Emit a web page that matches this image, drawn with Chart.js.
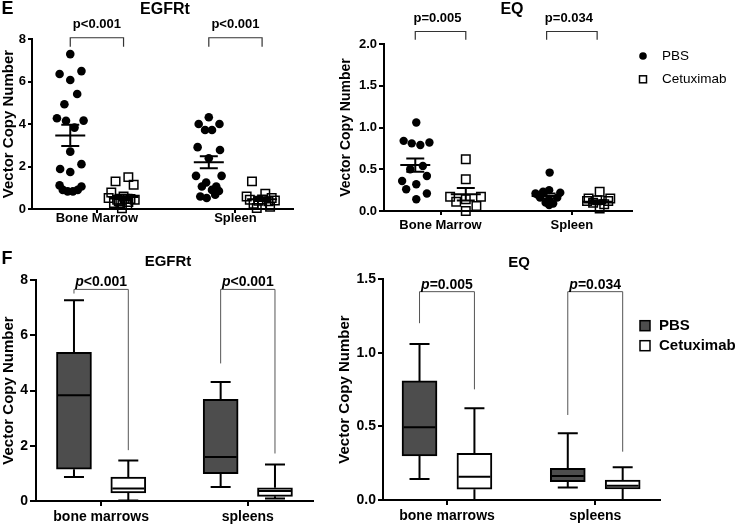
<!DOCTYPE html>
<html>
<head>
<meta charset="utf-8">
<script src="https://cdn.jsdelivr.net/npm/chart.js@4.4.0/dist/chart.umd.min.js"></script>
<style>
  html, body { margin: 0; padding: 0; background: #fff; }
  #wrap { position: relative; width: 744px; height: 528px; overflow: hidden; }
  canvas { position: absolute; }
</style>
</head>
<body>
<div id="wrap">
  <canvas id="eL" style="left:0;top:0" width="330" height="250"></canvas>
  <canvas id="eR" style="left:335px;top:0" width="409" height="250"></canvas>
  <canvas id="fL" style="left:0;top:250px" width="330" height="278"></canvas>
  <canvas id="fR" style="left:335px;top:250px" width="409" height="278"></canvas>
</div>
<script>
/* ---------- data ---------- */
const GROUPS_E = ["Bone Marrow", "Spleen"];
const GROUPS_F = ["bone marrows", "spleens"];
const SERIES = ["PBS", "Cetuximab"];

// x position of each column: BM-PBS, BM-Cetuximab, Spleen-PBS, Spleen-Cetuximab
const POS_E = [1, 2, 3.6, 4.6];
const POS_F = [1, 2, 3.7, 4.7];

// panel E, EGFRt (y value + horizontal scatter offset)
const EGFR_BM_PBS    = [7.29, 6.35, 6.49, 6.07, 5.41, 4.93, 4.27, 4.15, 4.16, 3.83, 2.70, 2.11, 1.88, 1.74, 1.11, 1.06, 0.90, 0.83, 0.83, 0.90];
const EGFR_BM_PBS_DX = [0, -0.20, 0.21, 0, 0.13, -0.11, -0.25, -0.08, 0.25, 0.08, 0, 0.21, -0.19, 0, -0.20, 0.21, -0.14, -0.05, 0.05, 0.14];
const EGFR_BM_CET    = [1.30, 1.50, 1.14, 0.78, 0.59, 0.52, 0.44, 0.47, 0.44, 0.28, 0.28, 0.20, 0.03, 0.36, 0.33, 0.48];
const EGFR_BM_CET_DX = [-0.15, 0.09, 0.19, -0.23, 0, -0.28, -0.12, 0.13, 0.21, -0.06, -0.18, 0.07, -0.03, -0.09, 0.09, 0.02];
const EGFR_SP_PBS    = [4.32, 4.00, 4.00, 3.72, 3.72, 2.91, 2.78, 2.39, 1.56, 1.56, 1.25, 1.06, 1.06, 0.90, 0.59, 0.52, 0.67, 0.85];
const EGFR_SP_PBS_DX = [0, -0.19, 0.20, -0.07, 0.06, -0.21, 0.21, 0, -0.24, 0.24, -0.05, -0.13, 0.14, 0.06, -0.16, -0.04, 0.12, 0.19];
const EGFR_SP_CET    = [1.30, 0.72, 0.59, 0.52, 0.44, 0.39, 0.36, 0.25, 0.20, 0.05, 0.10, 0.45, 0.40];
const EGFR_SP_CET_DX = [-0.19, 0.06, -0.29, 0.18, -0.23, -0.07, 0.12, -0.16, 0, -0.10, 0.15, 0, 0.24];
const EGFR_MEAN = [3.46, 0.57, 2.20, 0.46];
const EGFR_SEM  = [0.50, 0.10, 0.28, 0.08];

// panel E, EQ
const EQ_BM_PBS    = [1.06, 0.84, 0.81, 0.79, 0.82, 0.54, 0.50, 0.42, 0.36, 0.32, 0.26, 0.21, 0.14];
const EQ_BM_PBS_DX = [0.02, -0.23, -0.07, 0.10, 0.28, 0.15, -0.10, 0.23, -0.26, 0.02, -0.18, 0.23, 0.02];
const EQ_BM_CET    = [0.62, 0.38, 0.17, 0.11, 0.14, 0.17, 0.06, 0.00];
const EQ_BM_CET_DX = [0, 0, -0.31, -0.19, 0, 0.30, 0.21, 0];
const EQ_SP_PBS    = [0.46, 0.21, 0.25, 0.22, 0.23, 0.16, 0.10, 0.09, 0.16, 0.13, 0.07, 0.19];
const EQ_SP_PBS_DX = [0.06, -0.22, 0.05, 0.27, -0.07, -0.13, -0.02, 0.13, 0.21, 0.05, 0.05, -0.17];
const EQ_SP_CET    = [0.23, 0.15, 0.15, 0.12, 0.10, 0.08, 0.03, 0.13, 0.12];
const EQ_SP_CET_DX = [0.05, -0.17, 0.26, -0.20, -0.08, 0.14, 0.05, 0, 0.22];
const EQ_MEAN = [0.55, 0.20, 0.18, 0.11];
const EQ_SEM  = [0.08, 0.075, 0.03, 0.02];

// panel F box plots (same column order)
const FEGFR_MIN = [0.87, 0.02, 0.51, 0.09];
const FEGFR_Q1  = [1.15, 0.29, 0.99, 0.17];
const FEGFR_MED = [3.83, 0.45, 1.59, 0.36];
const FEGFR_Q3  = [5.38, 0.87, 3.68, 0.48];
const FEGFR_MAX = [7.27, 1.47, 4.31, 1.32];
const FEQ_MIN = [0.143, 0.0, 0.084, 0.0];
const FEQ_Q1  = [0.299, 0.073, 0.124, 0.075];
const FEQ_MED = [0.494, 0.158, 0.163, 0.097];
const FEQ_Q3  = [0.808, 0.317, 0.215, 0.136];
const FEQ_MAX = [1.059, 0.622, 0.453, 0.222];

// significance brackets: [top, left leg end, right leg end] per tissue
const P_E_EGFR = ["p<0.001", "p<0.001"];
const P_E_EQ   = ["p=0.005", "p=0.034"];
const BR_E_EGFR = [[8.06, 7.63, 7.63], [8.06, 7.63, 7.63]];
const BR_E_EQ   = [[2.15, 2.05, 2.05], [2.15, 2.05, 2.05]];
const BR_F_EGFR = [[7.66, 7.51, 1.84], [7.66, 4.98, 1.72]];
const BR_F_EQ   = [[1.414, 1.20, 0.751], [1.414, 0.577, 0.328]];

/* ---------- helpers ---------- */
const FONT = '"Liberation Sans", Arial, Helvetica, sans-serif';
const PBS_FILL = "#4d4d4d";

function txt(ctx, s, x, y, size, weight, align) {
    ctx.font = `${weight} ${size}px ${FONT}`;
    ctx.fillStyle = "#000";
    ctx.textAlign = align || "center";
    ctx.textBaseline = "middle";
    ctx.fillText(s, x, y);
}

function drawP(ctx, s, cx, cy, size, italicP) {
    ctx.fillStyle = "#000";
    ctx.textBaseline = "middle";
    if (!italicP) {
        txt(ctx, s, cx, cy, size, "bold");
        return;
    }
    const head = s[0], rest = s.slice(1);
    ctx.font = `italic bold ${size}px ${FONT}`;
    const w1 = ctx.measureText(head).width;
    ctx.font = `bold ${size}px ${FONT}`;
    const w2 = ctx.measureText(rest).width;
    const x0 = cx - (w1 + w2) / 2;
    ctx.textAlign = "left";
    ctx.font = `italic bold ${size}px ${FONT}`;
    ctx.fillText(head, x0, cy);
    ctx.font = `bold ${size}px ${FONT}`;
    ctx.fillText(rest, x0 + w1, cy);
}

function drawBrackets(chart, ctx, pos, br, labels, o) {
    const { x, y } = chart.scales;
    br.forEach((b, g) => {
        const x1 = x.getPixelForValue(pos[2 * g]);
        const x2 = x.getPixelForValue(pos[2 * g + 1]);
        const yt = y.getPixelForValue(b[0]);
        ctx.strokeStyle = o.color;
        ctx.lineWidth = o.lw;
        ctx.beginPath();
        ctx.moveTo(x1, y.getPixelForValue(b[1]));
        ctx.lineTo(x1, yt);
        ctx.lineTo(x2, yt);
        ctx.lineTo(x2, y.getPixelForValue(b[2]));
        ctx.stroke();
        drawP(ctx, labels[g], (x1 + x2) / 2 + o.dx, yt - o.gap, o.size, o.italic);
    });
}

function drawMeanSem(chart, ctx, pos, mean, sem) {
    const { x, y } = chart.scales;
    ctx.strokeStyle = "#000";
    ctx.lineWidth = 2;
    mean.forEach((m, i) => {
        const cx = x.getPixelForValue(pos[i]);
        const ym = y.getPixelForValue(m);
        const yt = y.getPixelForValue(m + sem[i]);
        const yb = y.getPixelForValue(Math.max(m - sem[i], 0));
        ctx.beginPath();
        ctx.moveTo(cx - 15, ym); ctx.lineTo(cx + 15, ym);
        ctx.moveTo(cx, yt); ctx.lineTo(cx, yb);
        ctx.moveTo(cx - 9, yt); ctx.lineTo(cx + 9, yt);
        ctx.moveTo(cx - 9, yb); ctx.lineTo(cx + 9, yb);
        ctx.stroke();
    });
}

function drawWhiskers(chart, ctx, pos, mn, md, mx, q1, q3) {
    const { x, y } = chart.scales;
    ctx.strokeStyle = "#000";
    ctx.lineWidth = 2;
    pos.forEach((p, i) => {
        const cx = x.getPixelForValue(p);
        const py = v => y.getPixelForValue(v);
        ctx.beginPath();
        ctx.moveTo(cx, py(q3[i])); ctx.lineTo(cx, py(mx[i]));
        ctx.moveTo(cx - 10, py(mx[i])); ctx.lineTo(cx + 10, py(mx[i]));
        ctx.moveTo(cx, py(q1[i])); ctx.lineTo(cx, py(mn[i]));
        ctx.moveTo(cx - 10, py(mn[i])); ctx.lineTo(cx + 10, py(mn[i]));
        ctx.moveTo(cx - 16, py(md[i])); ctx.lineTo(cx + 16, py(md[i]));
        ctx.stroke();
    });
}

function decor(draw) {
    return {
        id: "decor",
        afterDraw(chart) {
            const ctx = chart.ctx;
            ctx.save();
            draw(chart, ctx);
            ctx.restore();
        }
    };
}

function axisX(min, max, pos, labels, size, pad, height, tl) {
    return {
        type: "linear", min, max, offset: false, bounds: "data",
        afterBuildTicks: s => {
            s.ticks = [{ value: (pos[0] + pos[1]) / 2 }, { value: (pos[2] + pos[3]) / 2 }];
        },
        afterFit: s => { s.height = height; },
        ticks: {
            autoSkip: false, maxRotation: 0, padding: pad, color: "#000",
            font: { family: FONT, size, weight: "bold" },
            callback: (v, i) => labels[i]
        },
        grid: { display: true, offset: false, drawOnChartArea: false, drawTicks: true, tickLength: tl, color: "#000", lineWidth: 2 },
        border: { display: true, color: "#000", width: 2 }
    };
}

function axisY(max, step, fmt, size, width, tl, titleSize, titlePad) {
    return {
        type: "linear", min: 0, max,
        afterFit: s => { s.width = width; },
        ticks: {
            stepSize: step, padding: 2, color: "#000",
            font: { family: FONT, size, weight: "bold" },
            callback: fmt
        },
        grid: { display: true, drawOnChartArea: false, drawTicks: true, tickLength: tl, color: "#000", lineWidth: 2 },
        border: { display: true, color: "#000", width: 2 },
        title: {
            display: true, text: "Vector Copy Number", color: "#000",
            font: { family: FONT, size: titleSize, weight: "bold" },
            padding: { top: titlePad, bottom: 0 }
        }
    };
}

function points(pos, cols) {
    const out = [];
    cols.forEach(([col, ys, dxs]) => {
        ys.forEach((v, i) => out.push({ x: pos[col] + dxs[i], y: v }));
    });
    return out;
}

const BASE = {
    responsive: false,
    animation: false,
    devicePixelRatio: 1,
    events: [],
    plugins: { legend: { display: false }, tooltip: { enabled: false } }
};

/* ---------- E: EGFRt ---------- */
new Chart(document.getElementById("eL"), {
    type: "scatter",
    data: {
        datasets: [
            {
                label: SERIES[0],
                data: points(POS_E, [[0, EGFR_BM_PBS, EGFR_BM_PBS_DX], [2, EGFR_SP_PBS, EGFR_SP_PBS_DX]]),
                pointStyle: "circle", pointRadius: 4.3, backgroundColor: "#000", borderWidth: 0, clip: false
            },
            {
                label: SERIES[1],
                data: points(POS_E, [[1, EGFR_BM_CET, EGFR_BM_CET_DX], [3, EGFR_SP_CET, EGFR_SP_CET_DX]]),
                pointStyle: "rect", pointRadius: 6, backgroundColor: "rgba(0,0,0,0)",
                borderColor: "#000", borderWidth: 1.5, clip: false
            }
        ]
    },
    options: {
        ...BASE,
        layout: { padding: { left: 0, top: 39, right: 37, bottom: 0 } },
        scales: {
            x: axisX(0.282, 5.18, POS_E, GROUPS_E, 13, -2, 41, 4),
            y: axisY(8, 2, v => v, 13, 32, 4, 15, 0)
        }
    },
    plugins: [decor((chart, ctx) => {
        drawMeanSem(chart, ctx, POS_E, EGFR_MEAN, EGFR_SEM);
        drawBrackets(chart, ctx, POS_E, BR_E_EGFR, P_E_EGFR, { color: "#333", lw: 1.2, gap: 13, size: 13, italic: false, dx: 0 });
        txt(ctx, "EGFRt", 165, 10, 16, "bold");
        txt(ctx, "E", 1.5, 9, 18, "bold", "left");
    })]
});

/* ---------- E: EQ ---------- */
new Chart(document.getElementById("eR"), {
    type: "scatter",
    data: {
        datasets: [
            {
                label: SERIES[0],
                data: points(POS_E, [[0, EQ_BM_PBS, EQ_BM_PBS_DX], [2, EQ_SP_PBS, EQ_SP_PBS_DX]]),
                pointStyle: "circle", pointRadius: 4.2, backgroundColor: "#000", borderWidth: 0, clip: false
            },
            {
                label: SERIES[1],
                data: points(POS_E, [[1, EQ_BM_CET, EQ_BM_CET_DX], [3, EQ_SP_CET, EQ_SP_CET_DX]]),
                pointStyle: "rect", pointRadius: 6, backgroundColor: "rgba(0,0,0,0)",
                borderColor: "#000", borderWidth: 1.5, clip: false
            }
        ]
    },
    options: {
        ...BASE,
        layout: { padding: { left: 0, top: 44, right: 112, bottom: 0 } },
        scales: {
            x: axisX(0.381, 5.29, POS_E, GROUPS_E, 13, 3, 39, 4),
            y: axisY(2, 0.5, v => v.toFixed(1), 13, 49, 5, 14, 3)
        }
    },
    plugins: [decor((chart, ctx) => {
        drawMeanSem(chart, ctx, POS_E, EQ_MEAN, EQ_SEM);
        drawBrackets(chart, ctx, POS_E, BR_E_EQ, P_E_EQ, { color: "#333", lw: 1.2, gap: 13, size: 13, italic: false, dx: -3 });
        txt(ctx, "EQ", 177, 10, 16, "bold");
        // legend
        ctx.fillStyle = "#000";
        ctx.beginPath(); ctx.arc(308, 56, 3.8, 0, Math.PI * 2); ctx.fill();
        ctx.strokeStyle = "#000"; ctx.lineWidth = 1.5;
        ctx.strokeRect(304.5, 75.8, 7, 7);
        txt(ctx, SERIES[0], 327, 56, 13.5, "normal", "left");
        txt(ctx, SERIES[1], 327, 79.3, 13.5, "normal", "left");
    })]
});

/* ---------- F: box plots ---------- */
function boxSets(q1, q3) {
    const mk = (idx, fill, label) => ({
        type: "bar", label,
        data: idx.map(i => ({ x: POS_F[i], y: [q1[i], q3[i]] })),
        backgroundColor: fill, borderColor: "#000", borderWidth: 2, borderSkipped: false,
        barThickness: 35, grouped: false, clip: false
    });
    return [mk([0, 2], PBS_FILL, SERIES[0]), mk([1, 3], "#fff", SERIES[1])];
}

new Chart(document.getElementById("fL"), {
    type: "bar",
    data: { datasets: boxSets(FEGFR_Q1, FEGFR_Q3) },
    options: {
        ...BASE,
        layout: { padding: { left: 0, top: 30, right: 17, bottom: 0 } },
        scales: {
            x: axisX(0.301, 5.40, POS_F, GROUPS_F, 14, 3, 27, 5),
            y: axisY(8, 2, v => v, 14, 36, 6, 15, 0)
        }
    },
    plugins: [decor((chart, ctx) => {
        drawWhiskers(chart, ctx, POS_F, FEGFR_MIN, FEGFR_MED, FEGFR_MAX, FEGFR_Q1, FEGFR_Q3);
        drawBrackets(chart, ctx, POS_F, BR_F_EGFR, P_E_EGFR, { color: "#555", lw: 1, gap: 7, size: 14, italic: true, dx: 0 });
        txt(ctx, "EGFRt", 168, 12, 15, "bold");
        txt(ctx, "F", 1.5, 9, 18, "bold", "left");
    })]
});

new Chart(document.getElementById("fR"), {
    type: "bar",
    data: { datasets: boxSets(FEQ_Q1, FEQ_Q3) },
    options: {
        ...BASE,
        layout: { padding: { left: 0, top: 29, right: 83.7, bottom: 0 } },
        scales: {
            x: axisX(0.335, 5.385, POS_F, GROUPS_F, 14, 3, 28, 5),
            y: axisY(1.5, 0.5, v => v.toFixed(1), 14, 48, 5, 15, 1)
        }
    },
    plugins: [decor((chart, ctx) => {
        drawWhiskers(chart, ctx, POS_F, FEQ_MIN, FEQ_MED, FEQ_MAX, FEQ_Q1, FEQ_Q3);
        drawBrackets(chart, ctx, POS_F, BR_F_EQ, P_E_EQ, { color: "#555", lw: 1, gap: 7, size: 14, italic: true, dx: 0 });
        txt(ctx, "EQ", 184, 13, 15, "bold");
        // legend
        ctx.lineWidth = 1.5; ctx.strokeStyle = "#000";
        ctx.fillStyle = PBS_FILL; ctx.fillRect(305, 70.7, 10, 10); ctx.strokeRect(305, 70.7, 10, 10);
        ctx.fillStyle = "#fff"; ctx.fillRect(305, 90.7, 10, 10); ctx.strokeRect(305, 90.7, 10, 10);
        txt(ctx, SERIES[0], 324, 75.7, 15, "bold", "left");
        txt(ctx, SERIES[1], 324, 95.7, 15, "bold", "left");
    })]
});
</script>
</body>
</html>
